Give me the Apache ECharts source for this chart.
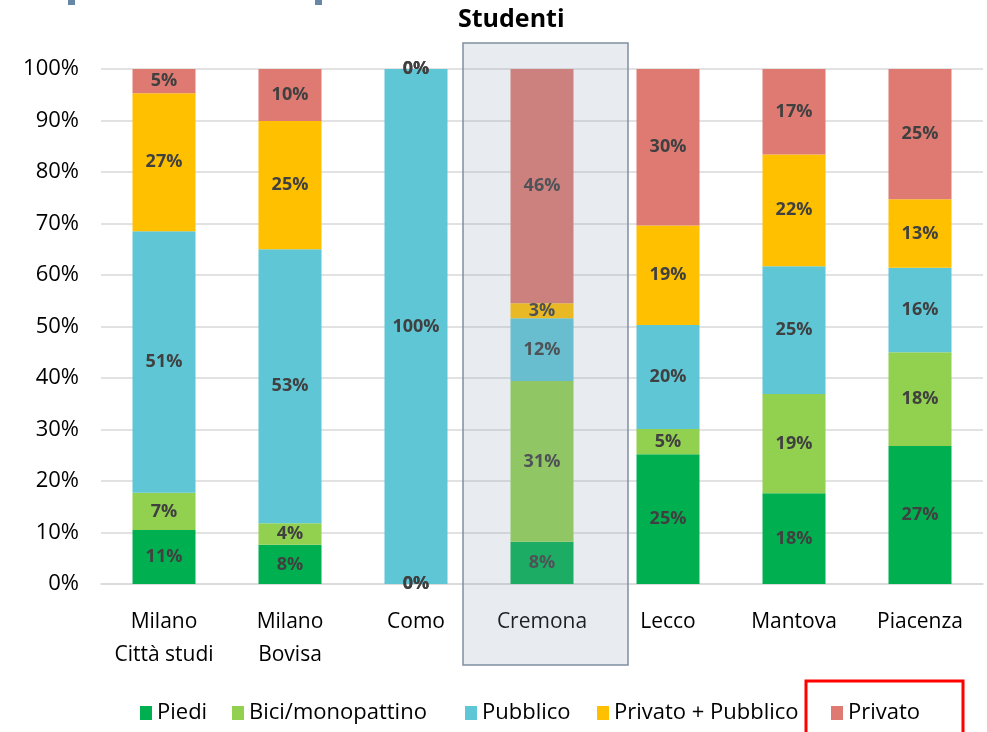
<!DOCTYPE html>
<html>
<head>
<meta charset="utf-8">
<script src="https://cdn.jsdelivr.net/npm/echarts@6/dist/echarts.min.js"></script>
<style>
  html, body { margin: 0; padding: 0; background: #fff; }
  #main { width: 987px; height: 732px; }
</style>
</head>
<body>
<div id="main"></div>
<script>
// sedi (categorie)
var sedi = ['Milano\nCittà studi', 'Milano\nBovisa', 'Como', 'Cremona', 'Lecco', 'Mantova', 'Piacenza'];
// quote per modalità di trasporto (%)
var piedi = [10.5, 7.6, 0, 8.2, 25.2, 17.6, 26.8];
var bici = [7.2, 4.2, 0, 31.2, 4.9, 19.3, 18.2];
var pubblico = [50.8, 53.2, 100, 12.2, 20.2, 24.8, 16.4];
var privPubb = [26.8, 24.9, 0, 2.9, 19.3, 21.7, 13.3];
var privato = [4.7, 10.1, 0, 45.5, 30.4, 16.6, 25.3];
var yTicks = [0, 10, 20, 30, 40, 50, 60, 70, 80, 90, 100];
var nomi = ['Piedi', 'Bici/monopattino', 'Pubblico', 'Privato + Pubblico', 'Privato'];
var colori = ['#00B050', '#92D050', '#5FC6D6', '#FFC000', '#DE7A72'];

var fontFam = '"Open Sans", "Noto Sans", sans-serif';

var chartDom = document.getElementById('main');
var myChart = echarts.init(chartDom);

function makeSerie(name, data, color) {
  return {
    name: name,
    type: 'bar',
    stack: 'tot',
    barWidth: '50%',
    data: data,
    itemStyle: { color: color },
    label: {
      show: true,
      position: 'inside',
      fontFamily: fontFam,
      fontWeight: 'bold',
      fontSize: 18,
      color: '#404040',
      formatter: function (p) { return Math.round(p.value) + '%'; }
    }
  };
}

// una legenda per voce, per posizionarle come nell'originale
var legendLeft = [140, 232, 465, 597, 831];
var legende = nomi.map(function (n, i) {
  return {
    left: legendLeft[i],
    bottom: 8,
    padding: 0,
    itemWidth: 12,
    itemHeight: 14,
    icon: 'rect',
    textStyle: { fontFamily: fontFam, fontSize: 22, color: '#000' },
    data: [n]
  };
});

var option = {
  animation: false,
  title: {
    text: 'Studenti',
    left: 453,
    top: 2,
    textStyle: { fontFamily: fontFam, fontSize: 25, fontWeight: 'bold', color: '#000' }
  },
  legend: legende,
  grid: { left: 101, right: 4, top: 69, bottom: 148 },
  xAxis: {
    type: 'category',
    data: sedi,
    axisLine: { lineStyle: { color: '#D9D9D9', width: 1.5 } },
    axisTick: { show: false },
    axisLabel: { interval: 0, fontFamily: fontFam, fontSize: 21, color: '#000', margin: 22, lineHeight: 33 }
  },
  yAxis: {
    type: 'value',
    min: yTicks[0],
    max: yTicks[yTicks.length - 1],
    interval: 10,
    axisLine: { show: false },
    axisTick: { show: false },
    splitLine: { lineStyle: { color: '#D9D9D9', width: 1.5 } },
    axisLabel: { fontFamily: fontFam, fontSize: 22, color: '#000', margin: 22, formatter: '{value}%' }
  },
  series: [
    makeSerie(nomi[0], piedi, colori[0]),
    makeSerie(nomi[1], bici, colori[1]),
    makeSerie(nomi[2], pubblico, colori[2]),
    makeSerie(nomi[3], privPubb, colori[3]),
    makeSerie(nomi[4], privato, colori[4])
  ]
};

option && myChart.setOption(option, true);

// riquadro evidenziato su Cremona e decorazioni
var cx = myChart.convertToPixel({ xAxisIndex: 0 }, 'Cremona');
myChart.setOption({
  graphic: [
    {
      type: 'rect', z: 100,
      shape: { x: cx - 79, y: 43, width: 165, height: 622 },
      style: { fill: 'rgba(140,158,178,0.2)', stroke: '#7F8EA0', lineWidth: 1.5 }
    },
    {
      type: 'rect', z: 100,
      shape: { x: 806, y: 681, width: 157, height: 55 },
      style: { fill: 'none', stroke: '#FF0000', lineWidth: 3 }
    },
    { type: 'rect', shape: { x: 68, y: 0, width: 7, height: 5 }, style: { fill: '#6688A6' } },
    { type: 'rect', shape: { x: 315, y: 0, width: 7, height: 5 }, style: { fill: '#6688A6' } }
  ]
});
</script>
</body>
</html>
